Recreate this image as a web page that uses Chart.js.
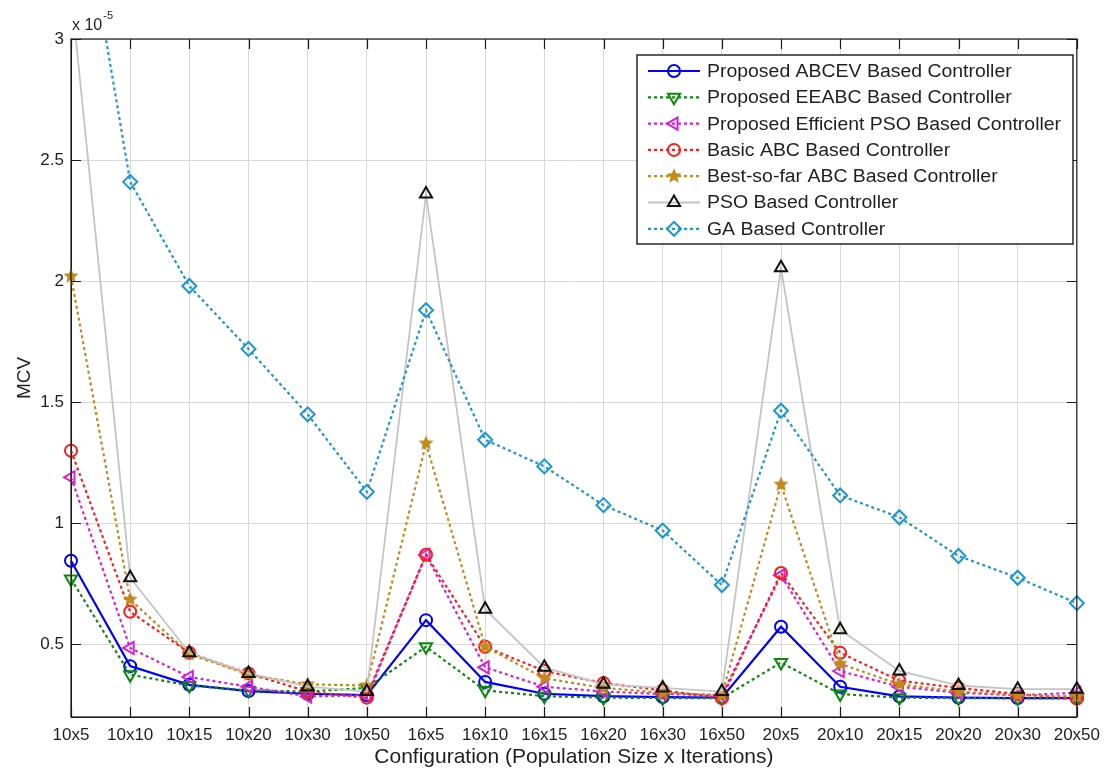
<!DOCTYPE html>
<html>
<head>
<meta charset="utf-8">
<script src="https://cdn.jsdelivr.net/npm/chart.js@4/dist/chart.umd.min.js"></script>
<style>
  html, body { margin: 0; padding: 0; background: #fff; }
  canvas { display: block; }
</style>
</head>
<body>
<canvas id="mcvChart" width="1108" height="772"></canvas>
<script>
// Configurations (population size x iterations)
const configs = ['10x5', '10x10', '10x15', '10x20', '10x30', '10x50',
  '16x5', '16x10', '16x15', '16x20', '16x30', '16x50',
  '20x5', '20x10', '20x15', '20x20', '20x30', '20x50'];

// MCV values, in units of 1e-5
const abcev     = [0.845, 0.41, 0.333, 0.307, 0.296, 0.29, 0.60, 0.345, 0.296, 0.286, 0.282, 0.28, 0.573, 0.325, 0.285, 0.28, 0.278, 0.278];
const eeabc     = [0.77, 0.375, 0.33, 0.31, 0.305, 0.32, 0.49, 0.31, 0.286, 0.28, 0.278, 0.278, 0.425, 0.295, 0.28, 0.278, 0.277, 0.277];
const effPso    = [1.19, 0.485, 0.365, 0.325, 0.285, 0.29, 0.87, 0.405, 0.325, 0.305, 0.295, 0.29, 0.785, 0.39, 0.325, 0.30, 0.29, 0.30];
const basicAbc  = [1.30, 0.635, 0.465, 0.38, 0.305, 0.28, 0.87, 0.49, 0.39, 0.34, 0.31, 0.278, 0.795, 0.465, 0.35, 0.32, 0.295, 0.276];
const bestSoFar = [2.02, 0.685, 0.46, 0.375, 0.335, 0.33, 1.33, 0.49, 0.36, 0.32, 0.30, 0.29, 1.16, 0.42, 0.335, 0.305, 0.29, 0.285];
const pso       = [3.2, 0.775, 0.465, 0.38, 0.325, 0.305, 2.36, 0.645, 0.405, 0.335, 0.32, 0.305, 2.055, 0.56, 0.39, 0.33, 0.315, 0.315];
const ga        = [3.85, 2.41, 1.98, 1.72, 1.45, 1.13, 1.88, 1.345, 1.235, 1.075, 0.97, 0.745, 1.465, 1.115, 1.025, 0.865, 0.775, 0.67];

const yTicks = [0.5, 1, 1.5, 2, 2.5, 3];

const FONT = '"Liberation Sans", Arial, sans-serif';
const TEXT = '#1f1f1f';

// filled five-point star used as a marker
function starImage(color, r) {
  const c = document.createElement('canvas');
  const s = Math.ceil(r * 2 + 2);
  c.width = s; c.height = s;
  const g = c.getContext('2d');
  g.translate(s / 2, s / 2);
  g.beginPath();
  for (let i = 0; i < 10; i++) {
    const rad = i % 2 === 0 ? r : r * 0.45;
    const a = -Math.PI / 2 + i * Math.PI / 5;
    g.lineTo(rad * Math.cos(a), rad * Math.sin(a));
  }
  g.closePath();
  g.fillStyle = color;
  g.fill();
  return c;
}

const series = [
  { label: 'Proposed ABCEV Based Controller', data: abcev, color: '#0000ff', marker: '#0000ff', style: 'circle', rot: 0, r: 6, dash: [], width: 2.2 },
  { label: 'Proposed EEABC Based Controller', data: eeabc, color: '#0a8a0a', marker: '#0a8a0a', style: 'triangle', rot: 180, r: 7, dash: [3, 3], width: 2.2 },
  { label: 'Proposed Efficient PSO Based Controller', data: effPso, color: '#d61fd6', marker: '#d61fd6', style: 'triangle', rot: -90, r: 7, dash: [3, 3], width: 2.2 },
  { label: 'Basic ABC Based Controller', data: basicAbc, color: '#ff1a1a', marker: '#ff1a1a', style: 'circle', rot: 0, r: 6, dash: [3, 3], width: 2.2 },
  { label: 'Best-so-far ABC Based Controller', data: bestSoFar, color: '#c28a1c', marker: '#c28a1c', style: starImage('#c28a1c', 8), rot: 0, r: 7, dash: [3, 3], width: 2.2 },
  { label: 'PSO Based Controller', data: pso, color: '#c4c4c4', marker: '#111111', style: 'triangle', rot: 0, r: 7, dash: [], width: 1.8 },
  { label: 'GA Based Controller', data: ga, color: '#1d95d4', marker: '#1d95d4', style: 'rectRot', rot: 0, r: 7, dash: [3, 3], width: 2.2 }
];

const datasets = series.map((s, i) => ({
  label: s.label,
  data: s.data,
  borderColor: s.color,
  borderWidth: s.width,
  borderDash: s.dash,
  backgroundColor: 'transparent',
  pointStyle: s.style,
  pointRotation: s.rot,
  pointRadius: s.r,
  pointBorderColor: s.marker,
  pointBackgroundColor: 'rgba(0,0,0,0)',
  pointBorderWidth: 2,
  tension: 0,
  fill: false,
  order: series.length - 1 - i
}));

function drawMarker(ctx, s, x, y) {
  if (s.style instanceof HTMLCanvasElement) {
    ctx.drawImage(s.style, x - s.style.width / 2, y - s.style.height / 2);
    return;
  }
  ctx.save();
  ctx.strokeStyle = s.marker;
  ctx.fillStyle = 'rgba(0,0,0,0)';
  ctx.lineWidth = 2;
  ctx.setLineDash([]);
  Chart.helpers.drawPoint(ctx, { pointStyle: s.style, rotation: s.rot, radius: s.r, borderWidth: 2 }, x, y);
  ctx.restore();
}

// box, inward ticks, exponent label and legend
const decorations = {
  id: 'decorations',
  afterDraw(chart) {
    const { ctx, chartArea: a, scales } = chart;
    ctx.save();
    ctx.strokeStyle = '#1a1a1a';
    ctx.lineWidth = 1.2;
    ctx.setLineDash([]);
    ctx.strokeRect(a.left, a.top, a.right - a.left, a.bottom - a.top);

    const tl = 10;
    ctx.beginPath();
    configs.forEach((c, i) => {
      const x = Math.round(scales.x.getPixelForValue(i)) + 0.5;
      ctx.moveTo(x, a.bottom); ctx.lineTo(x, a.bottom - tl);
      ctx.moveTo(x, a.top); ctx.lineTo(x, a.top + tl);
    });
    yTicks.forEach(v => {
      const y = Math.round(scales.y.getPixelForValue(v)) + 0.5;
      ctx.moveTo(a.left, y); ctx.lineTo(a.left + tl, y);
      ctx.moveTo(a.right, y); ctx.lineTo(a.right - tl, y);
    });
    ctx.stroke();

    // exponent
    ctx.fillStyle = TEXT;
    ctx.textBaseline = 'alphabetic';
    ctx.textAlign = 'left';
    ctx.font = '16px ' + FONT;
    ctx.fillText('x 10', a.left + 1, a.top - 9);
    const w = ctx.measureText('x 10').width;
    ctx.font = '11px ' + FONT;
    ctx.fillText('-5', a.left + 2 + w, a.top - 20);

    // legend
    const lx = 637, ly = 55, lw = 436, lh = 189;
    ctx.fillStyle = '#ffffff';
    ctx.fillRect(lx, ly, lw, lh);
    ctx.strokeStyle = '#262626';
    ctx.lineWidth = 1.5;
    ctx.strokeRect(lx, ly, lw, lh);
    ctx.textBaseline = 'middle';
    series.forEach((s, i) => {
      const y = 71 + i * 26.3;
      ctx.save();
      ctx.strokeStyle = s.color;
      ctx.lineWidth = s.width;
      ctx.setLineDash(s.dash);
      ctx.beginPath();
      ctx.moveTo(648, y); ctx.lineTo(700, y);
      ctx.stroke();
      ctx.restore();
      drawMarker(ctx, s, 674, y);
      ctx.save();
      ctx.translate(707, y + 1);
      ctx.scale(1.08, 1);
      ctx.font = '18px ' + FONT;
      ctx.fillStyle = TEXT;
      ctx.fillText(s.label, 0, 0);
      ctx.restore();
    });
    ctx.restore();
  }
};

new Chart(document.getElementById('mcvChart'), {
  type: 'line',
  data: { labels: configs, datasets },
  options: {
    responsive: false,
    animation: false,
    layout: { padding: { top: 39, right: 31, left: 0, bottom: 0 } },
    plugins: { legend: { display: false }, tooltip: { enabled: false } },
    scales: {
      x: {
        type: 'category',
        offset: false,
        grid: { color: '#d8d8d8', lineWidth: 1, drawTicks: false },
        border: { display: true, color: '#1a1a1a', width: 1 },
        ticks: { color: TEXT, font: { family: FONT, size: 17 }, padding: 8, maxRotation: 0, autoSkip: false },
        title: { display: true, text: 'Configuration (Population Size x Iterations)', color: TEXT, font: { family: FONT, size: 21 }, padding: { top: 0, bottom: 2 } },
        afterFit(scale) { scale.height = 55; }
      },
      y: {
        min: 0.2,
        max: 3,
        grid: { color: '#d8d8d8', lineWidth: 1, drawTicks: false },
        border: { display: true, color: '#1a1a1a', width: 1 },
        ticks: { color: TEXT, font: { family: FONT, size: 17 }, padding: 7, callback: v => String(v) },
        afterBuildTicks(scale) { scale.ticks = yTicks.map(v => ({ value: v })); },
        title: { display: true, text: 'MCV', color: TEXT, font: { family: FONT, size: 19 }, padding: { top: 13, bottom: 0 } },
        afterFit(scale) { scale.width = 71; }
      }
    }
  },
  plugins: [decorations]
});
</script>
</body>
</html>
